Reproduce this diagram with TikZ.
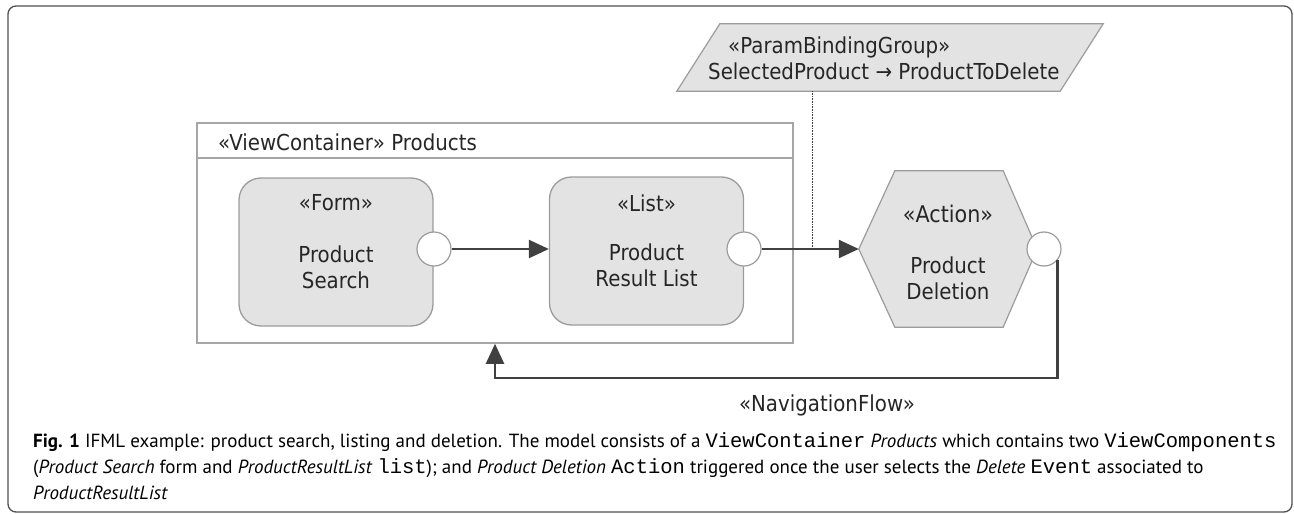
\documentclass[tikz,border=0pt]{standalone}
\usepackage{fontspec}
\setmainfont{DejaVu Sans}[FakeStretch=0.9]
\newfontfamily\capfont{PT Sans}
\setmonofont{Liberation Mono}
\usetikzlibrary{arrows.meta}

\definecolor{boxfill}{HTML}{E3E3E3}
\definecolor{boxline}{HTML}{9C9C9C}
\definecolor{flowcol}{HTML}{404040}
\definecolor{framecol}{HTML}{505050}
\newcommand{\code}[1]{{\ttfamily\fontsize{20.5}{26}\selectfont #1}}

\begin{document}
\begin{tikzpicture}[x=1pt, y=-1pt, >={Triangle[length=20pt,width=18pt]},
  every node/.style={font=\fontsize{22}{26}\selectfont, text=black!85},
  txt/.style={inner sep=0pt, align=center},
  comp/.style={draw=boxline, fill=boxfill, line width=1.3pt, rounded corners=22pt,
    minimum width=194pt, minimum height=148pt, inner sep=0pt},
  evt/.style={circle, draw=boxline, fill=white, line width=1.2pt, minimum size=34pt, inner sep=0pt},
  outline/.style={draw=boxline, fill=boxfill, line width=1.2pt},
  flow/.style={->, draw=flowcol, line width=2.3pt},
  vcline/.style={draw=boxline!90, line width=1.6pt}]
  \useasboundingbox (0,0) rectangle (1294,514);
  % outer frame
  \draw[framecol, line width=1.3pt, rounded corners=8pt] (8,6) rectangle (1292,512);

  % view container
  \node[vcline, minimum width=596pt, minimum height=220pt, inner sep=0pt] (products) at (495,233) {};
  \draw[vcline] ([yshift=-36pt]products.north west) -- ([yshift=-36pt]products.north east);
  \node[txt, anchor=west] (vctitle) at (218,142) {«ViewContainer» Products};

  % form and list components
  \node[comp] (search) at (336,252) {};
  \node[txt] (searchst) at ([yshift=49pt]search.center) {«Form»};
  \node[txt] (searchname) at ([yshift=-15pt]search.center) {Product\\Search};
  \node[comp] (list) at (646.5,251) {};
  \node[txt] (listst) at ([yshift=48pt]list.center) {«List»};
  \node[txt] (listname) at ([yshift=-14pt]list.center) {Product\\Result List};

  % action (hexagon)
  \node[inner sep=0pt, minimum width=178pt, minimum height=156pt] (del) at (948,249) {};
  \draw[outline] (del.west) -- ([xshift=36pt]del.north west) -- ([xshift=-34pt]del.north east)
    -- (del.east) -- ([xshift=-34pt]del.south east) -- ([xshift=36pt]del.south west) -- cycle;
  \node[txt, font=\fontsize{23}{26}\selectfont] (delst) at ([yshift=35pt]del.center) {«Action»};
  \node[txt] (delname) at ([yshift=-29pt]del.center) {Product\\Deletion};

  % events
  \node[evt] (searchevt) at (434,249) {};
  \node[evt] (listevt) at (744,249) {};
  \node[evt] (delevt) at (1044,249) {};

  % parameter binding group
  \node[inner sep=0pt, minimum width=426pt, minimum height=67pt] (pbg) at (890,57.5) {};
  \draw[outline] ([xshift=43pt]pbg.north west) -- (pbg.north east) -- ([xshift=-43pt]pbg.south east)
    -- (pbg.south west) -- cycle;
  \node[txt, anchor=west] (pbgst) at (728,47) {«ParamBindingGroup»};
  \node[txt, anchor=west] (pbgmap) at (708,71) {SelectedProduct → ProductToDelete};

  % flows
  \draw[flow] (searchevt.east) -- (searchevt.east -| list.west);
  \draw[flow] (listevt.east) -- (del.west);
  \coordinate (bind) at (812,249);
  \draw[flowcol, line width=0.6pt, densely dotted] (bind |- pbg.south) -- (bind);
  \coordinate (navturn) at (495,378);
  \draw[flow] (delevt.-40) |- (navturn) -- (navturn |- products.south);
  \node[txt] (navlbl) at (827,405) {«NavigationFlow»};

  % caption
  \node[inner sep=0pt, anchor=north west, align=left, text=black,
    font=\capfont\fontsize{19}{26}\selectfont] (cap) at (33,432)
    {\textbf{Fig. 1} IFML example: product search, listing and deletion. The model consists of a \code{ViewContainer} \textit{Products} which contains two \code{ViewComponents}\\
     (\textit{Product Search} form and \textit{ProductResultList} \code{list}); and \textit{Product Deletion} \code{Action} triggered once the user selects the \textit{Delete} \code{Event} associated to\\
     \textit{ProductResultList}};
\end{tikzpicture}
\end{document}
